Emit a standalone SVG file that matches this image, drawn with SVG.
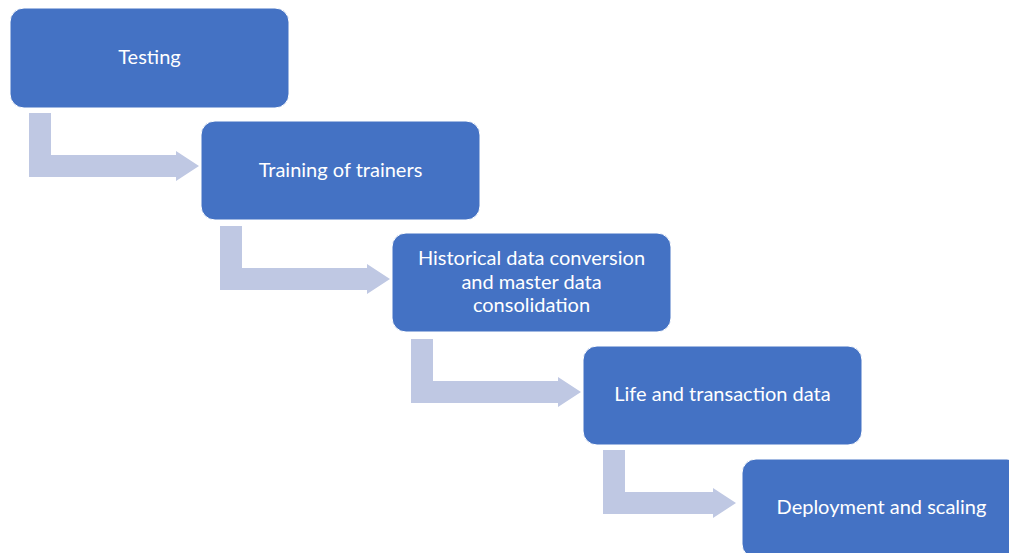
<svg xmlns="http://www.w3.org/2000/svg" width="1009" height="553" viewBox="0 0 1009 553">
  <style>
    .box { fill: #4472C4; stroke: #FFFFFF; stroke-width: 1; }
    .lbl { fill: #FFFFFF; font-family: Lato, "Liberation Sans", sans-serif; font-size: 20px; text-anchor: middle; }
    .bent { fill: #BFC8E3; }
  </style>
  <rect width="1009" height="553" fill="#FFFFFF"/>

  <!-- bent arrows between the steps -->
  <g id="connectors">
    <path class="bent" d="M29,113 H51 V155 H176 V151 L199,166 L176,181 V177 H29 Z"/>
    <path class="bent" d="M220,226 H242 V268 H367 V264 L390,279 L367,294 V290 H220 Z"/>
    <path class="bent" d="M411,339 H433 V381 H558 V377 L581,392 L558,407 V403 H411 Z"/>
    <path class="bent" d="M603,450 H625 V492 H713 V488 L736,503 L713,518 V514 H603 Z"/>
  </g>

  <g id="testing">
    <rect class="box" x="10" y="8" width="279" height="100" rx="14"/>
    <text class="lbl" x="149.5" y="64">Testing</text>
  </g>

  <g id="training">
    <rect class="box" x="201" y="121" width="279" height="99" rx="14"/>
    <text class="lbl" x="340.5" y="177">Training of trainers</text>
  </g>

  <g id="historical">
    <rect class="box" x="392" y="233" width="279" height="99" rx="14"/>
    <text class="lbl" x="531.5" y="265">Historical data conversion</text>
    <text class="lbl" x="531.5" y="289">and master data</text>
    <text class="lbl" x="531.5" y="312">consolidation</text>
  </g>

  <g id="life">
    <rect class="box" x="583" y="346" width="279" height="99" rx="14"/>
    <text class="lbl" x="722.5" y="401">Life and transaction data</text>
  </g>

  <g id="deployment">
    <rect class="box" x="742" y="459" width="279" height="99" rx="14"/>
    <text class="lbl" x="881.5" y="514">Deployment and scaling</text>
  </g>
</svg>
